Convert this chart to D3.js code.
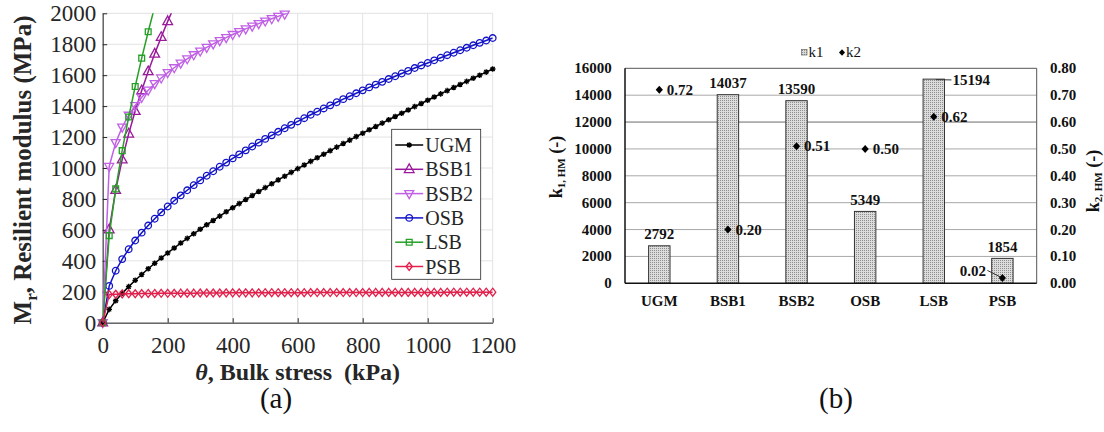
<!DOCTYPE html>
<html><head><meta charset="utf-8">
<script src="https://cdn.jsdelivr.net/npm/d3@7"></script>
<style>body{margin:0;background:#fff} svg{display:block}</style>
</head><body>
<svg id="c" width="1104" height="432"></svg>
<script>
// ---------------- DATA: panel (a) ----------------
const thetaKPa = [0,20,40,60,80,100,120,140,160,180,200,220,240,260,280,300,320,340,360,380,400,420,440,460,480,500,520,540,560,580,600,620,640,660,680,700,720,740,760,780,800,820,840,860,880,900,920,940,960,980,1000,1020,1040,1060,1080,1100,1120,1140,1160,1180,1200];
const ugm  = [0,86,142,190,233,274,312,349,384,418,451,483,515,545,575,604,633,661,689,717,743,770,796,822,848,873,898,923,947,972,996,1019,1043,1066,1089,1112,1135,1158,1180,1203,1225,1247,1268,1290,1312,1333,1354,1375,1397,1417,1438,1459,1479,1500,1520,1540,1560,1580,1600,1620,1640];
const bsb1 = [0,602,857,1054,1221,1368,1501,1624,1738,1846,1948,2045];
const bsb2 = [0,1010,1164,1264,1341,1403,1457,1503,1545,1582,1617,1648,1678,1706,1732,1756,1780,1802,1823,1843,1863,1881,1899,1917,1933,1950,1965,1980,1995,2010];
const osb  = [0,238,336,411,475,531,582,628,672,713,751,788,823,856,889,920,950,979,1008,1035,1062,1088,1114,1139,1164,1188,1211,1234,1257,1279,1301,1322,1344,1364,1385,1405,1425,1445,1464,1483,1502,1521,1539,1557,1575,1593,1611,1628,1646,1663,1679,1696,1713,1729,1745,1761,1777,1793,1809,1824,1840];
const lsb  = [0,563,865,1112,1330,1527,1710,1881,2043];
const psb  = [0,182,184,186,187,187,188,189,189,190,190,190,191,191,191,192,192,192,192,193,193,193,193,193,193,194,194,194,194,194,194,194,195,195,195,195,195,195,195,195,195,196,196,196,196,196,196,196,196,196,196,196,196,197,197,197,197,197,197,197,197];
const seriesNamesA = ["UGM","BSB1","BSB2","OSB","LSB","PSB"];
const xTicksA = [0,200,400,600,800,1000,1200];
const yTicksA = [0,200,400,600,800,1000,1200,1400,1600,1800,2000];

// ---------------- DATA: panel (b) ----------------
const categories = ["UGM","BSB1","BSB2","OSB","LSB","PSB"];
const k1 = [2792,14037,13590,5349,15194,1854];
const k2 = [0.72,0.20,0.51,0.50,0.62,0.02];
const k1Ticks = [0,2000,4000,6000,8000,10000,12000,14000,16000];
const k2Ticks = [0,0.1,0.2,0.3,0.4,0.5,0.6,0.7,0.8];

// ---------------- drawing ----------------
const FONT = "'Liberation Serif','Times New Roman',serif";
const svg = d3.select("#c");
const defs = svg.append("defs");

// ===== Panel (a) =====
const A = {l:102.7, r:492.7, t:13.3, b:322.7};
const xA = d3.scaleLinear().domain([0,1200]).range([A.l, A.r]);
const yA = d3.scaleLinear().domain([0,2000]).range([A.b, A.t]);
const gA = svg.append("g");

defs.append("clipPath").attr("id","clipA").append("rect")
  .attr("x",A.l).attr("y",A.t).attr("width",A.r-A.l).attr("height",A.b-A.t);

gA.append("g").selectAll("line").data(xTicksA).join("line")
  .attr("x1",d=>xA(d)).attr("x2",d=>xA(d)).attr("y1",A.t).attr("y2",A.b)
  .attr("stroke","#e2e2e2").attr("stroke-width",1);
gA.append("g").selectAll("line").data(yTicksA).join("line")
  .attr("y1",d=>yA(d)).attr("y2",d=>yA(d)).attr("x1",A.l).attr("x2",A.r)
  .attr("stroke","#e2e2e2").attr("stroke-width",1);

const axXA = gA.append("g").attr("transform",`translate(0,${A.b})`)
  .call(d3.axisBottom(xA).tickValues(xTicksA).tickSizeInner(-4.5).tickSizeOuter(0).tickPadding(13.5).tickFormat(d3.format("d")));
const axYA = gA.append("g").attr("transform",`translate(${A.l},0)`)
  .call(d3.axisLeft(yA).tickValues(yTicksA).tickSizeInner(-4.5).tickSizeOuter(0).tickPadding(6.5).tickFormat(d3.format("d")));
[axXA, axYA].forEach(ax=>{
  ax.select(".domain").attr("stroke","#262626").attr("stroke-width",1);
  ax.selectAll(".tick line").attr("stroke","#262626");
  ax.selectAll(".tick text").attr("font-family",FONT).attr("font-size","23px").attr("fill","#262626");
});

const styleA = {
  UGM:{color:"#000000", marker:"star"},
  BSB1:{color:"#9a1a9c", marker:"triUp"},
  BSB2:{color:"#c060e4", marker:"triDown"},
  OSB:{color:"#1212c8", marker:"circle"},
  LSB:{color:"#26a026", marker:"square"},
  PSB:{color:"#e2204c", marker:"diamond"}
};
const valuesA = {UGM:ugm, BSB1:bsb1, BSB2:bsb2, OSB:osb, LSB:lsb, PSB:psb};

function markerPath(type){
  switch(type){
    case "star": { const s=2.8, d=s*0.72; return `M${-s},0H${s}M0,${-s}V${s}M${-d},${-d}L${d},${d}M${-d},${d}L${d},${-d}`; }
    case "triUp": { const s=5.4; return `M0,${-s}L${s*0.9},${s*0.6}L${-s*0.9},${s*0.6}Z`; }
    case "triDown": { const s=5.0; return `M0,${s}L${s*0.9},${-s*0.6}L${-s*0.9},${-s*0.6}Z`; }
    case "circle": { const r=3.3; return `M${r},0A${r},${r} 0 1,1 ${-r},0A${r},${r} 0 1,1 ${r},0Z`; }
    case "square": { const s=2.9; return `M${-s},${-s}H${s}V${s}H${-s}Z`; }
    case "diamond": { const w=3.1, h=4.0; return `M0,${-h}L${w},0L0,${h}L${-w},0Z`; }
  }
}

const lineA = d3.line().x(d=>xA(d[0])).y(d=>yA(d[1]));
seriesNamesA.forEach(name=>{
  const st = styleA[name];
  const pts = valuesA[name].map((v,i)=>[thetaKPa[i], v]);
  const g = gA.append("g");
  g.append("path").datum(pts).attr("d",lineA).attr("fill","none")
    .attr("stroke",st.color).attr("stroke-width",1.5).attr("clip-path","url(#clipA)");
  g.selectAll("path.m").data(pts.filter(p=>p[1]<=2000)).join("path").attr("class","m")
    .attr("transform",p=>`translate(${xA(p[0])},${yA(p[1])})`)
    .attr("d",markerPath(st.marker)).attr("fill","none")
    .attr("stroke",st.color).attr("stroke-width",1.3);
});

// legend (a)
const L = {x:391.7, y:129.3, w:89, h:150};
const gL = gA.append("g");
gL.append("rect").attr("x",L.x).attr("y",L.y).attr("width",L.w).attr("height",L.h)
  .attr("fill","#fff").attr("stroke","#262626").attr("stroke-width",0.8);
seriesNamesA.forEach((name,i)=>{
  const st = styleA[name];
  const cy = L.y + 15.7 + i*24.3;
  gL.append("line").attr("x1",L.x+3.5).attr("x2",L.x+31.5).attr("y1",cy).attr("y2",cy)
    .attr("stroke",st.color).attr("stroke-width",1.5);
  gL.append("path").attr("transform",`translate(${L.x+17.5},${cy})`).attr("d",markerPath(st.marker))
    .attr("fill","none").attr("stroke",st.color).attr("stroke-width",1.3);
  gL.append("text").attr("x",L.x+33.5).attr("y",cy+7).text(name)
    .attr("font-family",FONT).attr("font-size","20px").attr("fill","#262626");
});

// axis titles (a)
const yt = gA.append("text").attr("transform","translate(31,170) rotate(-90)")
  .attr("text-anchor","middle").attr("font-family",FONT).attr("font-size","25px")
  .attr("font-weight","bold").attr("fill","#262626");
yt.append("tspan").text("M");
yt.append("tspan").attr("font-size","17px").attr("dy","6").text("r");
yt.append("tspan").attr("dy","-6").text(", Resilient modulus (MPa)");

const xt = gA.append("text").attr("x",(A.l+A.r)/2).attr("y",380)
  .attr("text-anchor","middle").attr("font-family",FONT).attr("font-size","24px")
  .attr("font-weight","bold").attr("fill","#262626").style("white-space","pre");
xt.append("tspan").attr("font-style","italic").text("θ");
xt.append("tspan").text(", Bulk stress  (kPa)");

svg.append("text").attr("x",276).attr("y",408).attr("text-anchor","middle")
  .attr("font-family",FONT).attr("font-size","29px").attr("fill","#111").text("(a)");

// ===== Panel (b) =====
const B = {l:625, r:1036.7, t:68.3, b:283.3};
const xB = d3.scaleBand().domain(categories).range([B.l,B.r]).paddingInner(0.688).paddingOuter(0.344);
const yB1 = d3.scaleLinear().domain([0,16000]).range([B.b,B.t]);
const yB2 = d3.scaleLinear().domain([0,0.8]).range([B.b,B.t]);
const gB = svg.append("g");

const pat = defs.append("pattern").attr("id","dots").attr("patternUnits","userSpaceOnUse")
  .attr("width",2).attr("height",2);
pat.append("rect").attr("width",2).attr("height",2).attr("fill","#dcdcdc");
pat.append("rect").attr("width",1).attr("height",1).attr("fill","#8e8e8e");

// gridlines
gB.append("g").selectAll("line").data(k1Ticks.filter(d=>d>0 && d<16000)).join("line")
  .attr("x1",B.l).attr("x2",B.r).attr("y1",d=>yB1(d)).attr("y2",d=>yB1(d))
  .attr("stroke",d=>d===12000?"#6a6a6a":"#a8a8a8").attr("stroke-width",1);
// frame top/right
gB.append("line").attr("x1",B.l).attr("x2",B.r).attr("y1",B.t).attr("y2",B.t).attr("stroke","#555").attr("stroke-width",1);
gB.append("line").attr("x1",B.r).attr("x2",B.r).attr("y1",B.t).attr("y2",B.b).attr("stroke","#555").attr("stroke-width",1);

// bars
gB.append("g").selectAll("rect").data(categories).join("rect")
  .attr("x",d=>xB(d)).attr("width",xB.bandwidth())
  .attr("y",(d,i)=>yB1(k1[i])).attr("height",(d,i)=>yB1(0)-yB1(k1[i]))
  .attr("fill","url(#dots)").attr("stroke","#333").attr("stroke-width",1);

// axes left/bottom
gB.append("line").attr("x1",B.l).attr("x2",B.l).attr("y1",B.t).attr("y2",B.b).attr("stroke","#111").attr("stroke-width",1.5);
gB.append("line").attr("x1",B.l).attr("x2",B.r).attr("y1",B.b).attr("y2",B.b).attr("stroke","#111").attr("stroke-width",1.5);

const txtB = sel => sel.attr("font-family",FONT).attr("font-size","15px").attr("font-weight","bold").attr("fill","#111");

gB.append("g").selectAll("text").data(k1Ticks).join("text")
  .attr("x",B.l-13.3).attr("y",d=>yB1(d)+5).attr("text-anchor","end").text(d=>d).call(txtB);
gB.append("g").selectAll("text").data(k2Ticks).join("text")
  .attr("x",B.r+13.3).attr("y",d=>yB2(d)+5).attr("text-anchor","start").text(d=>d.toFixed(2)).call(txtB);
gB.append("g").selectAll("text").data(categories).join("text")
  .attr("x",d=>xB(d)+xB.bandwidth()/2).attr("y",306).attr("text-anchor","middle").text(d=>d).call(txtB);

// k1 labels
categories.forEach((c,i)=>{
  const cx = xB(c)+xB.bandwidth()/2, ty = yB1(k1[i]);
  if (k1[i] > 15000) {
    gB.append("line").attr("x1",cx+2).attr("x2",xB(c)+xB.bandwidth()+7).attr("y1",ty+0.5).attr("y2",ty+0.8)
      .attr("stroke","#333").attr("stroke-width",1);
    gB.append("text").attr("x",xB(c)+xB.bandwidth()+8).attr("y",ty+6).attr("text-anchor","start").text(k1[i]).call(txtB);
  } else {
    gB.append("text").attr("x",cx).attr("y",ty-6.5).attr("text-anchor","middle").text(k1[i]).call(txtB);
  }
});

// k2 markers + labels
const dia = "M0,-4L3.6,0L0,4L-3.6,0Z";
categories.forEach((c,i)=>{
  const cx = xB(c)+xB.bandwidth()/2, cy = yB2(k2[i]);
  gB.append("path").attr("d",dia).attr("transform",`translate(${cx},${cy})`).attr("fill","#000");
  if (k2[i] < 0.05) {
    gB.append("line").attr("x1",cx-15).attr("y1",cy-7.5).attr("x2",cx-2).attr("y2",cy-1)
      .attr("stroke","#333").attr("stroke-width",1);
    gB.append("text").attr("x",cx-16.5).attr("y",cy-1.5).attr("text-anchor","end").text(k2[i].toFixed(2)).call(txtB);
  } else {
    gB.append("text").attr("x",cx+7.5).attr("y",cy+5).attr("text-anchor","start").text(k2[i].toFixed(2)).call(txtB);
  }
});

// legend (b)
gB.append("rect").attr("x",801.5).attr("y",49.5).attr("width",5.5).attr("height",5.5)
  .attr("fill","url(#dots)").attr("stroke","#666").attr("stroke-width",0.7);
gB.append("text").attr("x",808.5).attr("y",56.5).text("k1")
  .attr("font-family",FONT).attr("font-size","15px").attr("fill","#111");
gB.append("path").attr("d","M0,-3.3L3,0L0,3.3L-3,0Z").attr("transform","translate(842,52.5)").attr("fill","#000");
gB.append("text").attr("x",846).attr("y",56.5).text("k2")
  .attr("font-family",FONT).attr("font-size","15px").attr("fill","#111");

// axis titles (b)
function kTitle(x, y, sub){
  const t = gB.append("text").attr("transform",`translate(${x},${y}) rotate(-90)`)
    .attr("text-anchor","middle").attr("font-family",FONT).attr("font-weight","bold")
    .attr("font-size","18px").attr("fill","#111").style("white-space","pre");
  t.append("tspan").text("k");
  t.append("tspan").attr("font-size","11px").attr("dy","3").text(sub);
  t.append("tspan").attr("dy","-3").text(" (-)");
}
kTitle(562, 167, "1, HM");
kTitle(1099, 181, "2, HM");

svg.append("text").attr("x",836).attr("y",408).attr("text-anchor","middle")
  .attr("font-family",FONT).attr("font-size","29px").attr("fill","#111").text("(b)");
</script>
</body></html>
